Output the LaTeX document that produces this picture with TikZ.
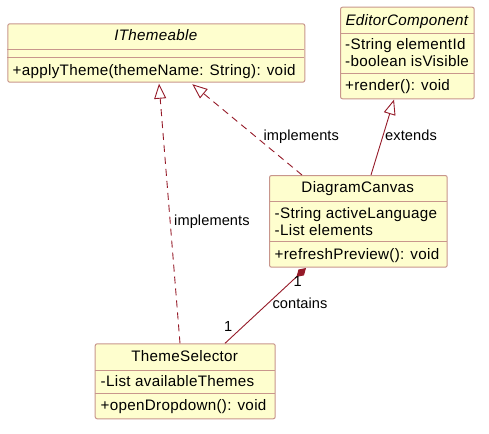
\documentclass[tikz,border=0pt]{standalone}
\usepackage{fontspec}
\setmainfont{Liberation Sans}
\newfontfamily\classfont[LetterSpace=2.0]{Liberation Sans}
\newfontfamily\labelfont[LetterSpace=0.6]{Liberation Sans}
\usetikzlibrary{calc,arrows.meta}
\definecolor{boxfill}{HTML}{FEFECE}
\definecolor{boxline}{HTML}{C8968C}
\definecolor{linkred}{HTML}{951A28}
\tikzset{
  classbox/.style={draw=boxline, fill=boxfill, line width=1pt, rounded corners=2pt, anchor=north west, inner sep=0pt},
  sepline/.style={draw=boxline, line width=1pt},
  ctext/.style={font=\classfont\fontsize{15.2}{18}\selectfont, inner sep=0pt, anchor=base west},
  ttext/.style={font=\classfont\fontsize{15.2}{18}\selectfont, inner sep=0pt, anchor=base},
  itext/.style={font=\classfont\fontsize{15.2}{18}\selectfont\itshape, inner sep=0pt, anchor=base},
  ltext/.style={font=\labelfont\fontsize{14.6}{17}\selectfont, inner sep=0pt, anchor=base west},
  link/.style={draw=linkred, line width=0.9pt},
  dashlink/.style={link, dash pattern=on 7pt off 5pt},
  realize/.style={-{Triangle[open, length=15pt, width=12pt, fill=white, line width=0.9pt]}},
  compose/.style={{Diamond[length=13pt, width=8pt, fill=linkred]}-}
}
\begin{document}
\begin{tikzpicture}[x=1pt, y=-1pt]
\useasboundingbox (0,0) rectangle (489,433);
% IThemeable
\node[classbox, minimum width=297pt, minimum height=58.4pt] (ith) at (7.3,23.3) {};
\draw[sepline] (7.3,49.3) -- (304.3,49.3);
\draw[sepline] (7.3,57.3) -- (304.3,57.3);
\node[itext] (ithT) at (155.8,41) {IThemeable};
\node[ctext] (ithM) at (12.5,75.5) {+applyTheme(themeName: String): void};
% EditorComponent
\node[classbox, minimum width=133.7pt, minimum height=91.6pt] (ec) at (340,6.7) {};
\draw[sepline] (340,33.3) -- (473.7,33.3);
\draw[sepline] (340,74) -- (473.7,74);
\node[itext] (ecT) at (406.8,25.7) {EditorComponent};
\node[ctext] (ecA1) at (345,50) {-String elementId};
\node[ctext] (ecA2) at (345,66.7) {-boolean isVisible};
\node[ctext] (ecM) at (345,91) {+render(): void};
% DiagramCanvas
\node[classbox, minimum width=177.7pt, minimum height=91.7pt] (dc) at (269,175) {};
\draw[sepline] (269,201.7) -- (446.7,201.7);
\draw[sepline] (269,241.7) -- (446.7,241.7);
\node[ttext] (dcT) at (357.8,192.7) {DiagramCanvas};
\node[ctext] (dcA1) at (274.5,218.3) {-String activeLanguage};
\node[ctext] (dcA2) at (274.5,235) {-List elements};
\node[ctext] (dcM) at (274.5,259) {+refreshPreview(): void};
% ThemeSelector
\node[classbox, minimum width=180pt, minimum height=75pt] (ts) at (94.7,343.3) {};
\draw[sepline] (94.7,370) -- (274.7,370);
\draw[sepline] (94.7,393.3) -- (274.7,393.3);
\node[ttext] (tsT) at (184.7,361) {ThemeSelector};
\node[ctext] (tsA1) at (100.5,386.7) {-List availableThemes};
\node[ctext] (tsM) at (100.5,410.7) {+openDropdown(): void};
% connectors
\draw[dashlink, realize] ($(ts.north west)+(85.3,0)$) -- ($(ith.south west)+(151.7,1)$);
\draw[dashlink, realize] ($(dc.north west)+(33,0)$) -- ($(ith.south west)+(185,1.5)$);
\draw[link, realize] ($(dc.north west)+(102,0)$) -- ($(ec.south west)+(54,0.3)$);
\draw[link, compose] ($(dc.south west)+(37,0.3)$) -- ($(ts.north west)+(130.3,0)$);
% labels
\node[ltext] (l1) at (263.3,140) {implements};
\node[ltext] (l2) at (385,140) {extends};
\node[ltext] (l3) at (174,225) {implements};
\node[ltext] (l4) at (272.3,308.3) {contains};
\node[ltext] (l5) at (293.3,286.7) {1};
\node[ltext] (l6) at (224,331.7) {1};
\end{tikzpicture}
\end{document}
